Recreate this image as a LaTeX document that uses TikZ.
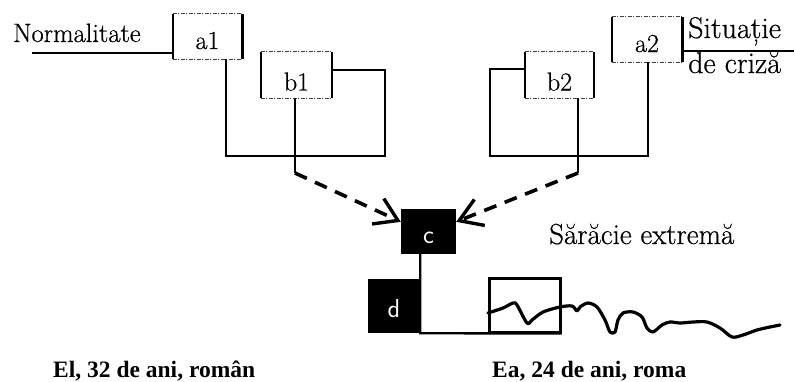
\documentclass[tikz,border=0pt]{standalone}
\usepackage{fontspec}
\newfontfamily\tnr{Liberation Serif}
\newfontfamily\heavy{Latin Modern Roman}[FakeBold=0.6]
\usetikzlibrary{arrows.meta}
\begin{document}
\begin{tikzpicture}[x=1pt,y=-1pt,
  conn/.style={line width=2.4pt},
  side/.style={line width=1.5pt},
  thickside/.style={line width=2.8pt},
  rim/.style={line width=0.8pt, black!75, dash pattern=on 4pt off 1.5pt on 1pt off 1.5pt},
  dasharrow/.style={line width=3.6pt, dash pattern=on 13pt off 9pt,
    -{Straight Barb[length=22pt,width=28pt,line width=3.4pt]}},
  boxnode/.style={inner sep=0pt, font=\heavy\fontsize{26}{28}\selectfont, text height=25pt, text depth=0pt},
  blacknode/.style={inner sep=0pt, fill=black, text=white, font=\sffamily\fontsize{26}{28}\selectfont, text depth=0pt},
  biglabel/.style={inner sep=0pt, anchor=base west},
  caption/.style={inner sep=0pt, anchor=base west, font=\tnr\bfseries\fontsize{23.5}{26}\selectfont}]
\useasboundingbox (0,0) rectangle (795,381);

% boxes
\node[boxnode, minimum width=69pt, minimum height=45pt] (a1) at (207.5,36.5) {a1};
\node[boxnode, minimum width=71pt, minimum height=46pt, text height=31pt] (b1) at (296.5,75) {b1};
\node[boxnode, minimum width=70pt, minimum height=45pt] (a2) at (647,39.5) {a2};
\node[boxnode, minimum width=69pt, minimum height=46pt, text height=31pt] (b2) at (559.5,75) {b2};
\node[blacknode, minimum width=55pt, minimum height=45pt, text height=24pt] (c) at (428.5,231.5) {c};
\node[blacknode, minimum width=52pt, minimum height=54pt, text height=23pt] (d) at (394,306) {d};
\node[draw, line width=3pt, inner sep=0pt, minimum width=71pt, minimum height=54pt] (e) at (524.5,305) {};

\foreach \n in {a1,b1,a2,b2} {
  \draw[side] (\n.north west) -- (\n.south west);
  \draw[side] (\n.north east) -- (\n.south east);
  \draw[rim] (\n.north west) -- (\n.north east);
  \draw[rim] (\n.south west) -- (\n.south east);
}
\draw[thickside] (a1.north east) -- (a1.south east);
\draw[thickside] (a2.north east) -- (a2.south east);

% texts
\node[biglabel, font=\heavy\fontsize{26.5}{30}\selectfont] (normal) at (13,42) {Normalitate};
\node[biglabel, font=\heavy\fontsize{30}{32}\selectfont] (sit) at (688,38) {Situație};
\node[biglabel, font=\heavy\fontsize{30}{32}\selectfont] (criza) at (688,73) {de criză};
\node[biglabel, font=\heavy\fontsize{29}{32}\selectfont] (sarac) at (549,244) {Sărăcie extremă};
\node[caption] (el) at (53,377) {El, 32 de ani, român};
\node[caption] (ea) at (492,377) {Ea, 24 de ani, roma};

% coordinates
\coordinate (nl) at (32,53);
\coordinate (sc) at (794,51);
\coordinate (l1) at (385,156);
\coordinate (l2) at (490,156);
\coordinate (k1) at (295,173);
\coordinate (k2) at (578,173);

% connectors
\draw[conn] (nl) -- (nl -| a1.west);
\draw[conn] (sc -| a2.east) -- (sc);
\draw[conn] ([xshift=18.5pt]a1.south) |- (l1) |- ([yshift=5pt]b1.east);
\draw[conn] ([xshift=1pt]a2.south) |- (l2) |- ([yshift=6pt]b2.west);
\draw[conn] ([xshift=-1.5pt]b1.south) -- (k1);
\draw[conn] ([xshift=18.5pt]b2.south) -- (k2);
\draw[dasharrow] (k1) -- ([yshift=-13pt]c.north west);
\draw[dasharrow] (k2) -- ([yshift=-13pt]c.north east);
\draw[conn] (c.south -| d.east) -- (d.south east) -- (e.south east);

% wave
\draw[line width=3.2pt, line join=round, line cap=round] plot[smooth, tension=0.5] coordinates {
 (488,313) (503,308) (513,303) (517,305) (527,323) (532,320) (543,312) (560,307)
 (572,306) (577,311) (580,307) (588,303) (597,307) (605,320) (610,332) (615,332)
 (618,320) (623,313) (633,312) (642,317) (647,328) (653,332) (662,325) (670,322)
 (680,323) (693,322) (707,322) (720,328) (732,337) (743,335) (757,330) (770,327) (780,325)};
\end{tikzpicture}
\end{document}
